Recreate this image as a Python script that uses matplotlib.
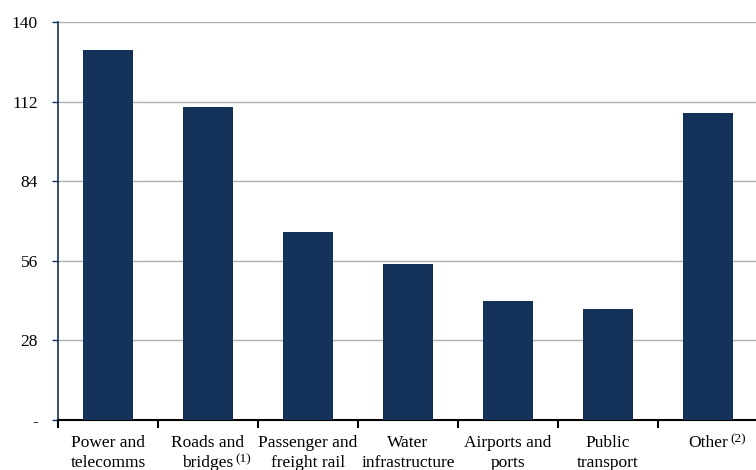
import numpy as np
import matplotlib.pyplot as plt

plt.rcParams['font.family'] = ['Liberation Serif', 'DejaVu Serif']

categories = ["Power and\ntelecomms", "Roads and\nbridges", "Passenger and\nfreight rail",
              "Water\ninfrastructure", "Airports and\nports", "Public\ntransport", "Other"]
footnotes = ["", "(1)", "", "", "", "", "(2)"]
values = [130, 110, 66, 55, 42, 39, 108]
yticks = [0, 28, 56, 84, 112, 140]
ytick_labels = ["-", "28", "56", "84", "112", "140"]

navy = "#14315a"
fs = 12.5
px = 72 / 100  # points per pixel

fig = plt.figure(figsize=(7.56, 4.70), dpi=100)
ax = fig.add_axes([58 / 756, 50 / 470, 700 / 756, 398 / 470])

x = np.arange(len(categories))
ax.bar(x, values, width=0.5, color=navy, zorder=3)

ax.set_xlim(-0.5, len(categories) - 0.5)
ax.set_ylim(0, 140)
ax.set_yticks(yticks)
ax.set_yticklabels(ytick_labels, fontsize=fs)
ax.yaxis.grid(True, color="#b0b0b0", linewidth=1, zorder=0)

# x ticks at category boundaries
ax.set_xticks(np.arange(len(categories) + 1) - 0.5)
ax.set_xticklabels([])
ax.tick_params(axis="x", length=6, width=1.5, color="black", direction="out")
ax.tick_params(axis="y", length=4.5, width=1, color=navy, pad=10)

# category labels, two lines each, with superscript footnotes
for i, (cat, note) in enumerate(zip(categories, footnotes)):
    lines = cat.split("\n")
    last = None
    for j, line in enumerate(lines):
        last = ax.annotate(line, xy=(i, 0), xycoords=("data", "axes fraction"),
                           xytext=(0, -(27 + 20 * j) * px), textcoords="offset points",
                           ha="center", va="baseline", fontsize=fs, annotation_clip=False)
    if note:
        ax.annotate(note, xy=(1, 1), xycoords=last, xytext=(1.5, 1),
                    textcoords="offset points", ha="left", va="top", fontsize=9.5)

for s in ["top", "right"]:
    ax.spines[s].set_visible(False)
ax.spines["left"].set_color(navy)
ax.spines["left"].set_linewidth(1.2)
ax.spines["bottom"].set_color("black")
ax.spines["bottom"].set_linewidth(1.5)

fig.savefig("out.png", dpi=100)
